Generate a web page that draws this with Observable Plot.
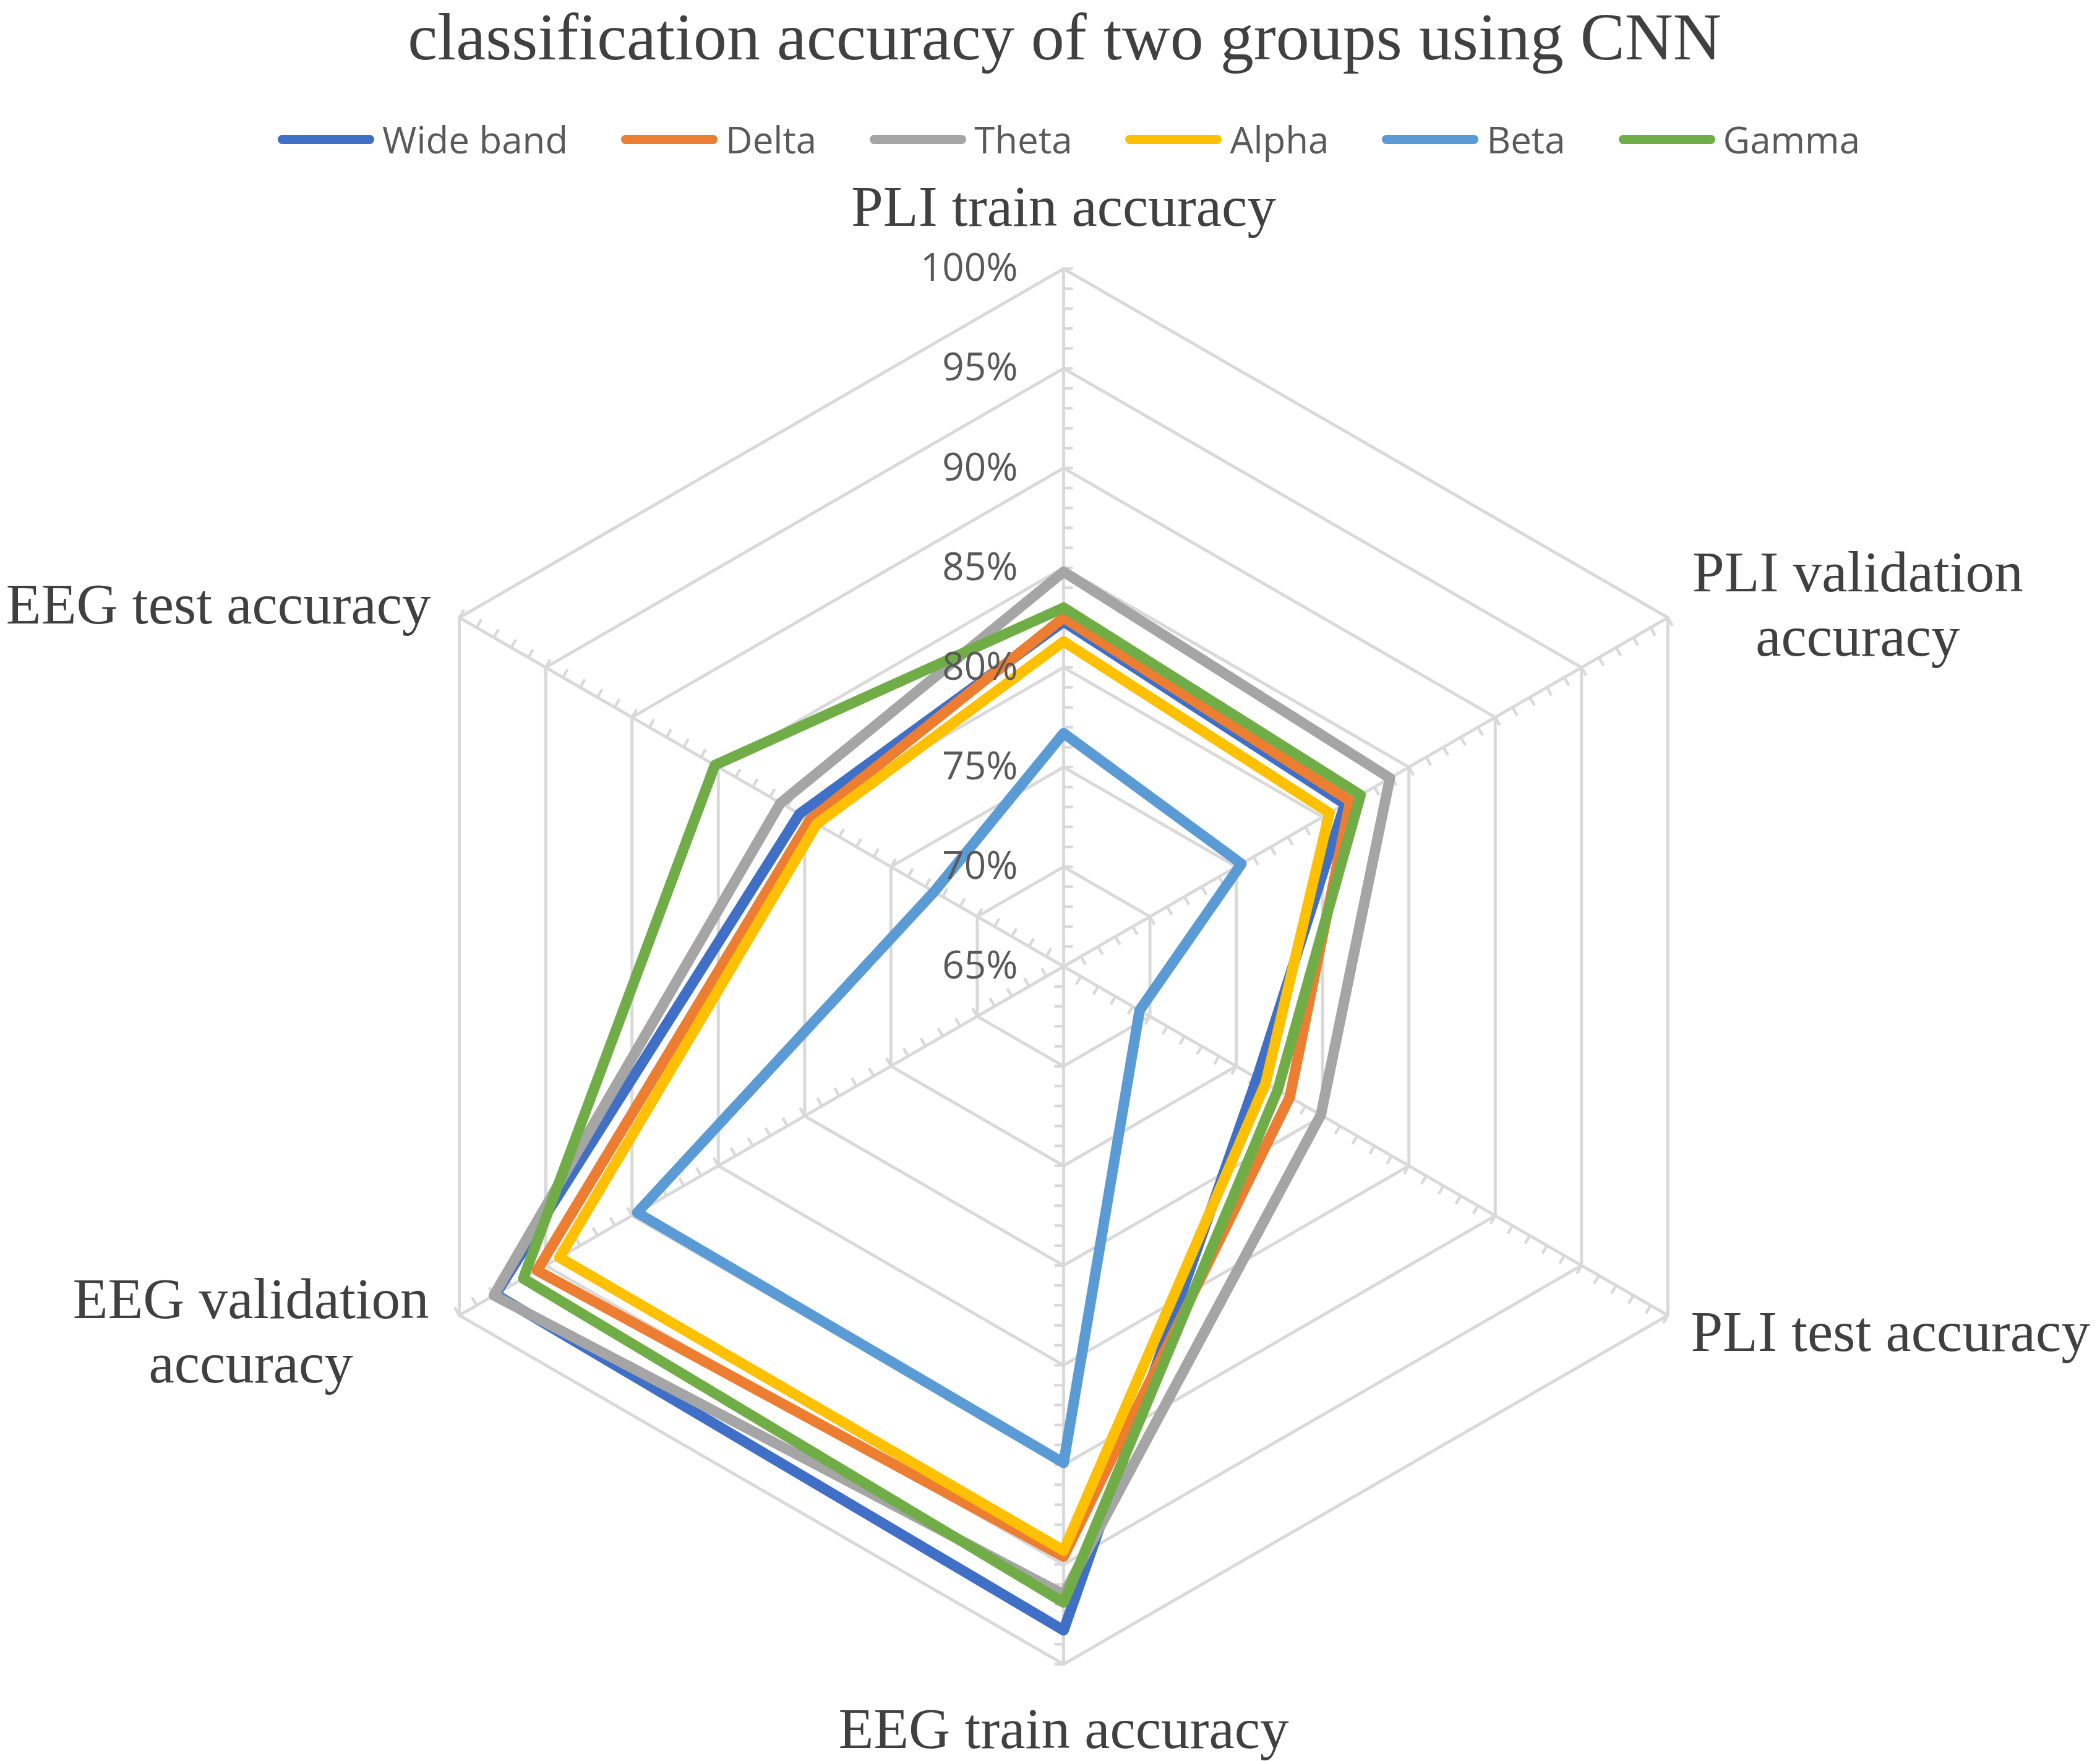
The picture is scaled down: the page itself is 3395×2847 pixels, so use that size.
<!DOCTYPE html>
<html>
<head>
<meta charset="utf-8">
<script src="https://cdn.jsdelivr.net/npm/d3@7"></script>
<script src="https://cdn.jsdelivr.net/npm/@observablehq/plot@0.6"></script>
<style>
  html, body { margin: 0; padding: 0; background: #ffffff; }
  #header { position: relative; width: 3395px; height: 280px; }
  #title { position: absolute; top: 0px; left: 0; width: 100%; box-sizing: border-box; padding-left: 47px;
           text-align: center; font-family: "Liberation Serif", serif; font-size: 108px; line-height: 120px; color: #404040; }
  #legend { position: absolute; top: 195px; left: 0; width: 100%; height: 60px; box-sizing: border-box; padding-left: 61px;
            display: flex; justify-content: center; align-items: center;
            font-family: "Open Sans", sans-serif; font-size: 60px; line-height: 60px; color: #595959; }
  .item { display: flex; align-items: center; margin: 0 43px; }
  .sw { width: 156px; height: 15px; border-radius: 8px; margin-right: 13px; }
</style>
</head>
<body>
<div id="header">
  <div id="title"></div>
  <div id="legend"></div>
</div>
<div id="chart"></div>
<script>
// ---------- data ----------
const titleText = "classification accuracy of two groups using CNN";
const axes = ["PLI train accuracy", "PLI validation accuracy", "PLI test accuracy",
              "EEG train accuracy", "EEG validation accuracy", "EEG test accuracy"];
const axisLabels = ["PLI train accuracy", "PLI validation\naccuracy", "PLI test accuracy",
                    "EEG train accuracy", "EEG validation\naccuracy", "EEG test accuracy"];
const series = ["Wide band", "Delta", "Theta", "Alpha", "Beta", "Gamma"];
const wideBand = [82.3, 81.3, 76.2, 98.3, 97.9, 80.3];
const delta    = [82.5, 81.6, 78.1, 94.6, 95.5, 79.7];
const theta    = [84.8, 83.9, 79.9, 96.5, 98.0, 81.4];
const alpha    = [81.3, 80.4, 76.7, 94.3, 94.2, 79.3];
const beta     = [76.7, 75.3, 69.4, 89.9, 89.7, 72.5];
const gamma    = [83.0, 82.2, 77.4, 96.9, 96.3, 85.2];
const tickValues = [65, 70, 75, 80, 85, 90, 95, 100];
const tickLabels = ["65%", "70%", "75%", "80%", "85%", "90%", "95%", "100%"];

const values = [wideBand, delta, theta, alpha, beta, gamma];
const colors = ["#3F6FC6", "#ED7D31", "#A5A5A5", "#FFC000", "#5B9BD5", "#70AD47"];

// ---------- header ----------
document.getElementById("title").textContent = titleText;
const legend = document.getElementById("legend");
series.forEach((s, k) => {
  const item = document.createElement("div");
  item.className = "item";
  const sw = document.createElement("div");
  sw.className = "sw";
  sw.style.background = colors[k];
  const t = document.createElement("span");
  t.textContent = s;
  item.appendChild(sw); item.appendChild(t);
  legend.appendChild(item);
});

// ---------- geometry helpers ----------
const vMin = tickValues[0], vMax = tickValues[tickValues.length - 1];
const n = axes.length;
const rad = v => (v - vMin) / (vMax - vMin);
const ang = i => (i % n) * 2 * Math.PI / n;
const px = (i, v) => rad(v) * Math.sin(ang(i));
const py = (i, v) => rad(v) * Math.cos(ang(i));

const W = 3395, H = 2567;
const cx = 1719, cy = 1282, R = 1128;   // pixel layout of the plot
const u = p => p / R;                    // pixels -> data units

// rings
const rings = [];
tickValues.slice(1).forEach(level => {
  for (let i = 0; i <= n; i++) rings.push({level, i, x: px(i, level), y: py(i, level)});
});
// minor ticks every 1%
const ticks = [];
for (let i = 0; i < n; i++) {
  for (let k = vMin + 1; k <= vMax; k++) ticks.push({i, k});
}
const tickLen = u(15);

// series rows (closed polygons)
const rows = series.map((s, k) => {
  const pts = axes.map((a, i) => ({series: s, axis: a, i, value: values[k][i]}));
  pts.push({...pts[0]});
  return pts;
});

// label layout: [dx px, dy px, anchor]
const labelLayout = [[0, -103, "middle"], [307, -24, "middle"], [37, 24, "start"],
                     [0, 102, "middle"], [-337, 23, "middle"], [-46, -24, "end"]];

const gridColor = "#D9D9D9";

const marks = [
  // rings
  Plot.line(rings, {x: "x", y: "y", z: "level", stroke: gridColor, strokeWidth: 5}),
  // spokes
  Plot.link(d3.range(n), {x1: () => 0, y1: () => 0, x2: i => px(i, vMax), y2: i => py(i, vMax),
                          stroke: gridColor, strokeWidth: 5}),
  // tick marks (clockwise side)
  Plot.link(ticks, {
    x1: d => px(d.i, d.k), y1: d => py(d.i, d.k),
    x2: d => px(d.i, d.k) + tickLen * Math.cos(ang(d.i)),
    y2: d => py(d.i, d.k) - tickLen * Math.sin(ang(d.i)),
    stroke: gridColor, strokeWidth: 4.5
  }),
  // series
  ...rows.map(r => Plot.line(r, {
    x: d => px(d.i, d.value), y: d => py(d.i, d.value),
    stroke: "series", strokeWidth: 17, strokeLinejoin: "round", strokeLinecap: "round"
  })),
  // value labels on top axis
  Plot.text(tickValues, {
    x: () => 0, y: v => rad(v), text: (v, j) => tickLabels[j],
    textAnchor: "end", dx: -74, fontSize: 62, fontFamily: "Open Sans", fill: "#595959"
  }),
  // axis labels
  ...axisLabels.map((lab, i) => {
    const [ox, oy, anchor] = labelLayout[i];
    return Plot.text([i], {
      x: j => px(j, vMax) + u(ox), y: j => py(j, vMax) - u(oy),
      text: j => axisLabels[j], textAnchor: anchor, lineHeight: 1.12,
      fontSize: 93, fontFamily: "Liberation Serif", fill: "#404040"
    });
  })
];

const chart = Plot.plot({
  width: W, height: H,
  margin: 0,
  x: {domain: [-1, 1], range: [cx - R, cx + R], axis: null},
  y: {domain: [-1, 1], range: [cy + R, cy - R], axis: null},
  color: {domain: series, range: colors},
  style: {background: "#ffffff", overflow: "visible"},
  marks
});
document.getElementById("chart").appendChild(chart);
</script>
</body>
</html>
